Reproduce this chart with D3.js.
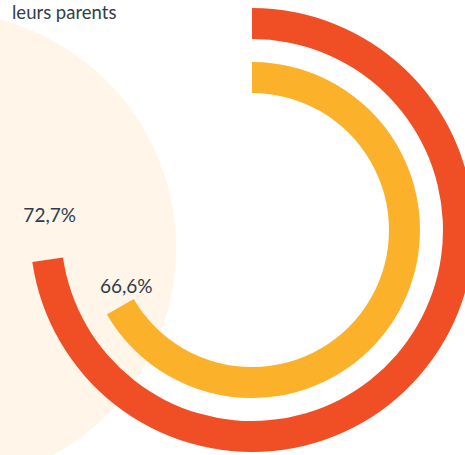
<!DOCTYPE html>
<html>
<head>
<meta charset="utf-8">
<script src="https://cdn.jsdelivr.net/npm/d3@7"></script>
<style>
  html, body { margin: 0; padding: 0; background: #ffffff; }
  svg { display: block; }
</style>
</head>
<body>
<svg id="chart" width="465" height="455"></svg>
<script>
// ---- data ----
const title = "leurs parents";
const series = ["anneau extérieur", "anneau intérieur"];
const values = [72.7, 66.6];
const valueLabels = ["72,7%", "66,6%"];

// ---- styles / layout ----
const W = 465, H = 455;
const cx = 252, cy = 230;
const ringOuter = [222, 168];
const ringWidth = 31;
const colors = ["#f04e24", "#fcb12b"];
const labelOffset = [[2, -38], [6, -14]];

const svg = d3.select("#chart");

// background disc
svg.append("circle")
  .attr("cx", -60).attr("cy", 248).attr("r", 236)
  .attr("fill", "#fff5e9");

// title text
svg.append("text")
  .attr("x", 12).attr("y", 19)
  .attr("font-family", "Lato, 'Open Sans', sans-serif")
  .attr("font-size", 18.5)
  .attr("fill", "#333d4a")
  .text(title);

const angle = d3.scaleLinear().domain([0, 100]).range([0, 2 * Math.PI]);

const g = svg.append("g").attr("transform", `translate(${cx},${cy})`);

const rows = series.map((s, i) => ({ name: s, value: values[i], label: valueLabels[i], i }));

const arc = d3.arc()
  .innerRadius(d => ringOuter[d.i] - ringWidth)
  .outerRadius(d => ringOuter[d.i])
  .startAngle(0)
  .endAngle(d => angle(d.value));

g.selectAll("path.ring")
  .data(rows)
  .join("path")
  .attr("class", "ring")
  .attr("d", arc)
  .attr("fill", d => colors[d.i]);

g.selectAll("text.val")
  .data(rows)
  .join("text")
  .attr("class", "val")
  .attr("text-anchor", "middle")
  .attr("font-family", "Lato, 'Open Sans', sans-serif")
  .attr("font-size", 19)
  .attr("fill", "#2f3b4c")
  .attr("x", d => {
    const a = angle(d.value), r = ringOuter[d.i] - ringWidth / 2;
    return r * Math.sin(a) + labelOffset[d.i][0];
  })
  .attr("y", d => {
    const a = angle(d.value), r = ringOuter[d.i] - ringWidth / 2;
    return -r * Math.cos(a) + labelOffset[d.i][1];
  })
  .text(d => d.label);
</script>
</body>
</html>
